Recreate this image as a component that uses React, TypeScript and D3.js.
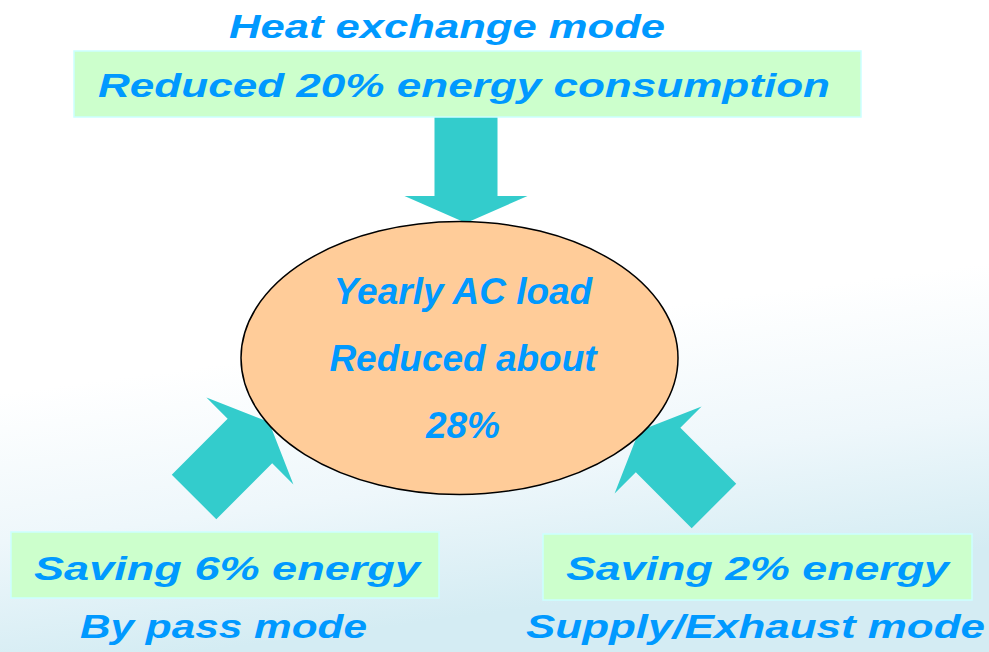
import React, { useEffect, useRef } from "react";
import * as d3 from "d3";

// modes and the energy saving each one gives
const modes = ["Heat exchange mode", "By pass mode", "Supply/Exhaust mode"];
const savings = [20, 6, 2];
const savingLabels = [
  `Reduced ${savings[0]}% energy consumption`,
  `Saving ${savings[1]}% energy`,
  `Saving ${savings[2]}% energy`,
];
const totalReduction = 28;
const centerLines = ["Yearly AC load", "Reduced about", `${totalReduction}%`];

const W = 989;
const H = 652;
const FONT = "'Liberation Sans', Arial, sans-serif";
const TEXT_COLOR = "#0099ff";
const ARROW_COLOR = "#33cccc";

const App: React.FC = () => {
  const svgRef = useRef<SVGSVGElement | null>(null);

  useEffect(() => {
    if (!svgRef.current) return;
    const svg = d3.select(svgRef.current);
    svg.selectAll("*").remove();
    svg.attr("width", W).attr("height", H);

    // background: white fading into pale sky blue at the bottom
    const defs = svg.append("defs");
    const grad = defs
      .append("linearGradient")
      .attr("id", "bg")
      .attr("x1", 0)
      .attr("y1", 0)
      .attr("x2", 0.2)
      .attr("y2", 1);
    grad.append("stop").attr("offset", "0.58").attr("stop-color", "#ffffff");
    grad.append("stop").attr("offset", "0.8").attr("stop-color", "#eef7fb");
    grad.append("stop").attr("offset", "1").attr("stop-color", "#d4ecf3");
    svg.append("rect").attr("width", W).attr("height", H).attr("fill", "url(#bg)");

    // arrow shape pointing along +x, tip at origin
    const len = 106;
    const headLen = 27;
    const headW = 123;
    const shaftW = 63;
    const shape: [number, number][] = [
      [0, 0],
      [-headLen, -headW / 2],
      [-headLen, -shaftW / 2],
      [-len, -shaftW / 2],
      [-len, shaftW / 2],
      [-headLen, shaftW / 2],
      [-headLen, headW / 2],
    ];
    const arrowPath = d3.line().curve(d3.curveLinearClosed)(shape) as string;

    const arrows = [
      { x: 466, y: 223, angle: 90 },
      { x: 269, y: 422, angle: -45 },
      { x: 639, y: 431, angle: -135 },
    ];
    svg
      .selectAll("path.arrow")
      .data(arrows)
      .join("path")
      .attr("class", "arrow")
      .attr("d", arrowPath)
      .attr("transform", (d) => `translate(${d.x},${d.y}) rotate(${d.angle})`)
      .attr("fill", ARROW_COLOR);

    // boxes
    const boxes = [
      { x: 74, y: 51, w: 787, h: 66 },
      { x: 11, y: 532, w: 428, h: 66 },
      { x: 543, y: 534, w: 429, h: 66 },
    ];
    svg
      .selectAll("rect.box")
      .data(boxes)
      .join("rect")
      .attr("class", "box")
      .attr("x", (d) => d.x)
      .attr("y", (d) => d.y)
      .attr("width", (d) => d.w)
      .attr("height", (d) => d.h)
      .attr("fill", "#ccffcc")
      .attr("stroke", "#ccffff")
      .attr("stroke-width", 1.5);

    // ellipse
    svg
      .append("ellipse")
      .attr("cx", 459.5)
      .attr("cy", 358)
      .attr("rx", 218.5)
      .attr("ry", 136.5)
      .attr("fill", "#ffcc99")
      .attr("stroke", "#000")
      .attr("stroke-width", 1.5);

    const addText = (
      t: string,
      x: number,
      y: number,
      size: number,
      width?: number
    ) => {
      const el = svg
        .append("text")
        .attr("x", x)
        .attr("y", y)
        .attr("fill", TEXT_COLOR)
        .style("font-family", FONT)
        .style("font-style", "italic")
        .style("font-weight", "bold")
        .style("font-size", `${size}px`)
        .text(t);
      if (width) {
        // the original glyphs are stretched sideways
        el.attr("textLength", width).attr("lengthAdjust", "spacingAndGlyphs");
      }
      return el;
    };

    // mode titles and savings
    addText(modes[0], 229, 38, 34, 436);
    addText(savingLabels[0], 98, 97, 34, 732);
    addText(savingLabels[1], 34, 580, 34, 386);
    addText(savingLabels[2], 566, 580, 34, 383);
    addText(modes[1], 80, 638, 34, 287);
    addText(modes[2], 526, 638, 34, 459);

    // centre text
    centerLines.forEach((t, i) => {
      addText(t, 463, 304 + i * 67, 37).attr("text-anchor", "middle");
    });
  }, []);

  return (
    <svg
      ref={svgRef}
      style={{ position: "absolute", left: 0, top: 0, display: "block" }}
    />
  );
};

export default App;
